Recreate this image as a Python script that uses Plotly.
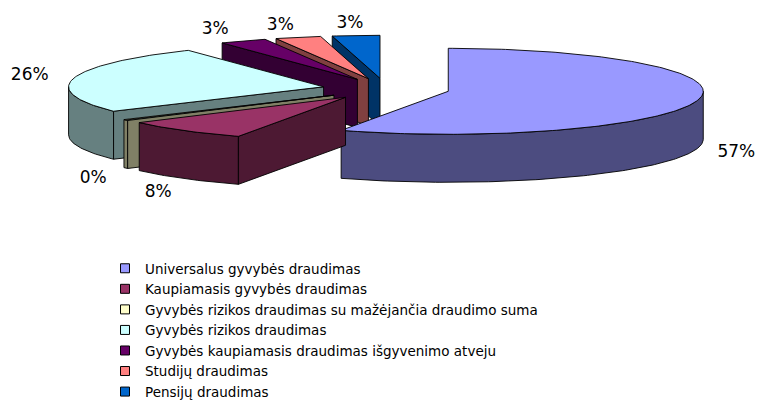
import math
import plotly.graph_objects as go

# ---- data ----
categories = [
    "Universalus gyvybės draudimas",
    "Kaupiamasis gyvybės draudimas",
    "Gyvybės rizikos draudimas su mažėjančia draudimo suma",
    "Gyvybės rizikos draudimas",
    "Gyvybės kaupiamasis draudimas išgyvenimo atveju",
    "Studijų draudimas",
    "Pensijų draudimas",
]
values = [56.9, 8.1, 0.4, 25.7, 3.0, 2.9, 3.0]
top_colors = ["#9999FF", "#993366", "#FFFFCC", "#CCFFFF", "#660066", "#FF8080", "#0066CC"]
side_colors = ["#4C4C80", "#4D1933", "#808066", "#668080", "#330033", "#804040", "#003366"]

# ---- 3D pie geometry (layout constants, in page pixels) ----
CX, CY = 386, 89
RX, RY = 255, 43
DEPTH = 48
EXPLODE = 0.25
FONT = "DejaVu Sans"
OFF = 8          # page body margin
W, H = 764 - OFF, 401 - OFF

total = sum(values)


def pt(cx, cy, th, r=1.0, dy=0.0):
    t = math.radians(th)
    return cx + RX * r * math.sin(t), cy - RY * r * math.cos(t) + dy


def arc(cx, cy, a, b, dy=0.0):
    n = max(2, int(abs(b - a)) + 2)
    return [pt(cx, cy, a + (b - a) * k / (n - 1), 1.0, dy) for k in range(n)]


fig = go.Figure()

# legend entries (in original order)
for i, name in enumerate(categories):
    fig.add_trace(go.Scatter(
        x=[None], y=[None], mode="markers", name=name,
        marker=dict(symbol="square", size=9, color=top_colors[i],
                    line=dict(color="black", width=1)),
        hoverinfo="skip",
    ))

# slice angles
slices = []
cum = 0.0
for i, v in enumerate(values):
    a = cum / total * 360.0
    cum += v
    b = cum / total * 360.0
    mid = (a + b) / 2
    sx, sy = pt(CX, CY, mid, EXPLODE)
    slices.append((i, a, b, mid, sx, sy))

order = sorted(slices, key=lambda s: -math.cos(math.radians(s[3])))


def poly(points, fill):
    xs = [p[0] for p in points] + [points[0][0]]
    ys = [p[1] for p in points] + [points[0][1]]
    fig.add_trace(go.Scatter(
        x=xs, y=ys, mode="lines", fill="toself", fillcolor=fill,
        line=dict(color="black", width=0.9), hoverinfo="skip", showlegend=False,
    ))


for i, a, b, mid, sx, sy in order:
    # curved outer wall (front-facing part)
    a2, b2 = max(a, 90.0), min(b, 270.0)
    if b2 > a2:
        pts = arc(sx, sy, a2, b2) + arc(sx, sy, b2, a2, DEPTH)
        poly(pts, side_colors[i])
    # radial walls
    if math.sin(math.radians(a)) < -1e-9:
        ra = pt(sx, sy, a)
        poly([(sx, sy), ra, (ra[0], ra[1] + DEPTH), (sx, sy + DEPTH)], side_colors[i])
    if math.sin(math.radians(b)) > 1e-9:
        rb = pt(sx, sy, b)
        poly([(sx, sy), rb, (rb[0], rb[1] + DEPTH), (sx, sy + DEPTH)], side_colors[i])
    # top face
    poly([(sx, sy)] + arc(sx, sy, a, b), top_colors[i])

# percentage labels, placed just outside each slice's rim
lx, ly, lt = [], [], []
for i, a, b, mid, sx, sy in slices:
    t = math.radians(mid)
    c, s = math.cos(t), math.sin(t)
    rx_, ry_ = pt(sx, sy, mid)
    gap = 40 + 25 * max(c, 0.0)
    lx.append(rx_ + gap * s)
    if c < 0:
        ly.append(ry_ - 18 * c + DEPTH)
    else:
        ly.append(ry_ - 12 * c)
    lt.append(f"{round(values[i] / total * 100)}%")
fig.add_trace(go.Scatter(
    x=lx, y=ly, text=lt, mode="text", textposition="middle center",
    textfont=dict(family=FONT, size=17, color="black"),
    hoverinfo="skip", showlegend=False, cliponaxis=False,
))

fig.update_layout(
    width=W, height=H,
    margin=dict(l=0, r=0, t=0, b=0, autoexpand=False),
    paper_bgcolor="white", plot_bgcolor="white",
    xaxis=dict(range=[OFF, 764], visible=False, fixedrange=True),
    yaxis=dict(range=[401, OFF], visible=False, fixedrange=True),
    showlegend=True,
    legend=dict(
        x=(105 - OFF) / W, y=1 - (253 - OFF) / H, xanchor="left", yanchor="top",
        font=dict(family=FONT, size=13.5, color="black"),
        bgcolor="rgba(0,0,0,0)", traceorder="normal", itemwidth=30,
    ),
)

fig.write_html("out.html")
